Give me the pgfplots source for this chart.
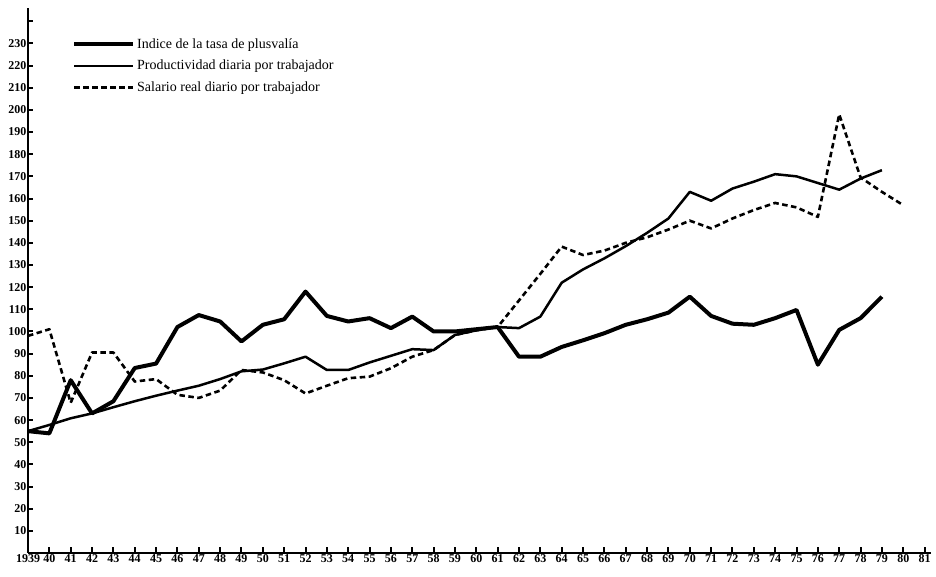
\documentclass[border=0pt]{standalone}
\usepackage{fontspec}
\setmainfont{Liberation Serif}
\usepackage{pgfplots}
\pgfplotsset{compat=1.18}
\begin{document}
\begin{tikzpicture}[x=1pt,y=1pt]
\useasboundingbox (0,0) rectangle (936,577);
\begin{axis}[
  at={(28pt,24pt)}, anchor=south west,
  scale only axis, width=903pt, height=545pt,
  xmin=1939, xmax=1981.3, ymin=0, ymax=246,
  axis x line*=bottom, axis y line*=left,
  axis line style={-, line width=2.6pt},
  tick align=inside, major tick length=5.5pt,
  tick style={line width=2pt, black},
  xtick={1939,1940,1941,1942,1943,1944,1945,1946,1947,1948,1949,1950,1951,1952,1953,1954,1955,1956,1957,1958,1959,1960,1961,1962,1963,1964,1965,1966,1967,1968,1969,1970,1971,1972,1973,1974,1975,1976,1977,1978,1979,1980,1981},
  xticklabels={1939,40,41,42,43,44,45,46,47,48,49,50,51,52,53,54,55,56,57,58,59,60,61,62,63,64,65,66,67,68,69,70,71,72,73,74,75,76,77,78,79,80,81},
  ytick={10,20,30,40,50,60,70,80,90,100,110,120,130,140,150,160,170,180,190,200,210,220,230,240},
  yticklabels={10,20,30,40,50,60,70,80,90,100,110,120,130,140,150,160,170,180,190,200,210,220,230,{}},
  ticklabel style={font=\bfseries\fontsize{12}{13}\selectfont},
  xticklabel style={inner sep=1.5pt},
  yticklabel style={inner sep=1.5pt},
  /pgf/number format/assume math mode=true,
  legend cell align=left,
  legend image code/.code={\draw[#1] (0pt,0pt) -- (59pt,0pt);},
  legend style={at={(rel axis cs:0.0487,0.948)}, anchor=north west, draw=none, fill=none,
    font=\fontsize{14}{16}\selectfont, row sep=6.5pt, inner sep=0pt, nodes={inner sep=2pt}},
]
\addplot[black, line width=4pt, line join=round] coordinates {
(1939,55) (1940,54) (1941,78) (1942,63) (1943,68.5) (1944,83.5) (1945,85.5) (1946,102)
(1947,107.4) (1948,104.5) (1949,95.5) (1950,103) (1951,105.5) (1952,118) (1953,107)
(1954,104.5) (1955,106) (1956,101.5) (1957,106.7) (1958,100) (1959,100) (1960,101)
(1961,102) (1962,88.6) (1963,88.6) (1964,93) (1965,96) (1966,99.2) (1967,103)
(1968,105.5) (1969,108.5) (1970,115.7) (1971,107) (1972,103.5) (1973,103) (1974,106)
(1975,109.7) (1976,85) (1977,100.7) (1978,106) (1979,115.7)};
\addlegendentry{Indice de la tasa de plusvalía}
\addplot[black, line width=2.5pt, line join=round] coordinates {
(1939,55) (1940,57.8) (1941,60.8) (1942,63) (1943,65.8) (1944,68.5) (1945,71) (1946,73.3)
(1947,75.5) (1948,78.5) (1949,82) (1950,82.8) (1951,85.6) (1952,88.6) (1953,82.6)
(1954,82.6) (1955,86) (1956,89) (1957,92) (1958,91.6) (1959,98.4) (1960,100.5)
(1961,102) (1962,101.5) (1963,106.7) (1964,122) (1965,128) (1966,133) (1967,138.5)
(1968,144.5) (1969,151) (1970,163) (1971,159) (1972,164.5) (1973,167.6) (1974,171)
(1975,170) (1976,167) (1977,164) (1978,169) (1979,172.8)};
\addlegendentry{Productividad diaria por trabajador}
\addplot[black, line width=2.6pt, line join=round, dash pattern=on 5.5pt off 3.5pt] coordinates {
(1939,98) (1940,101) (1941,67.8) (1942,90.5) (1943,90.5) (1944,77.4) (1945,78.5)
(1946,71.4) (1947,70) (1948,73.3) (1949,82.6) (1950,81.5) (1951,78) (1952,72)
(1953,75.5) (1954,78.9) (1955,79.6) (1956,83.4) (1957,88.6) (1958,91.6) (1959,98.4)
(1960,100.5) (1961,102) (1962,114) (1963,126) (1964,138.3) (1965,134.5) (1966,136.5)
(1967,140) (1968,142.5) (1969,146) (1970,150) (1971,146.5) (1972,151) (1973,154.8)
(1974,158) (1975,156) (1976,151.7) (1977,198) (1978,169.5) (1979,163) (1980,157)};
\addlegendentry{Salario real diario por trabajador}
\end{axis}
\end{tikzpicture}
\end{document}
